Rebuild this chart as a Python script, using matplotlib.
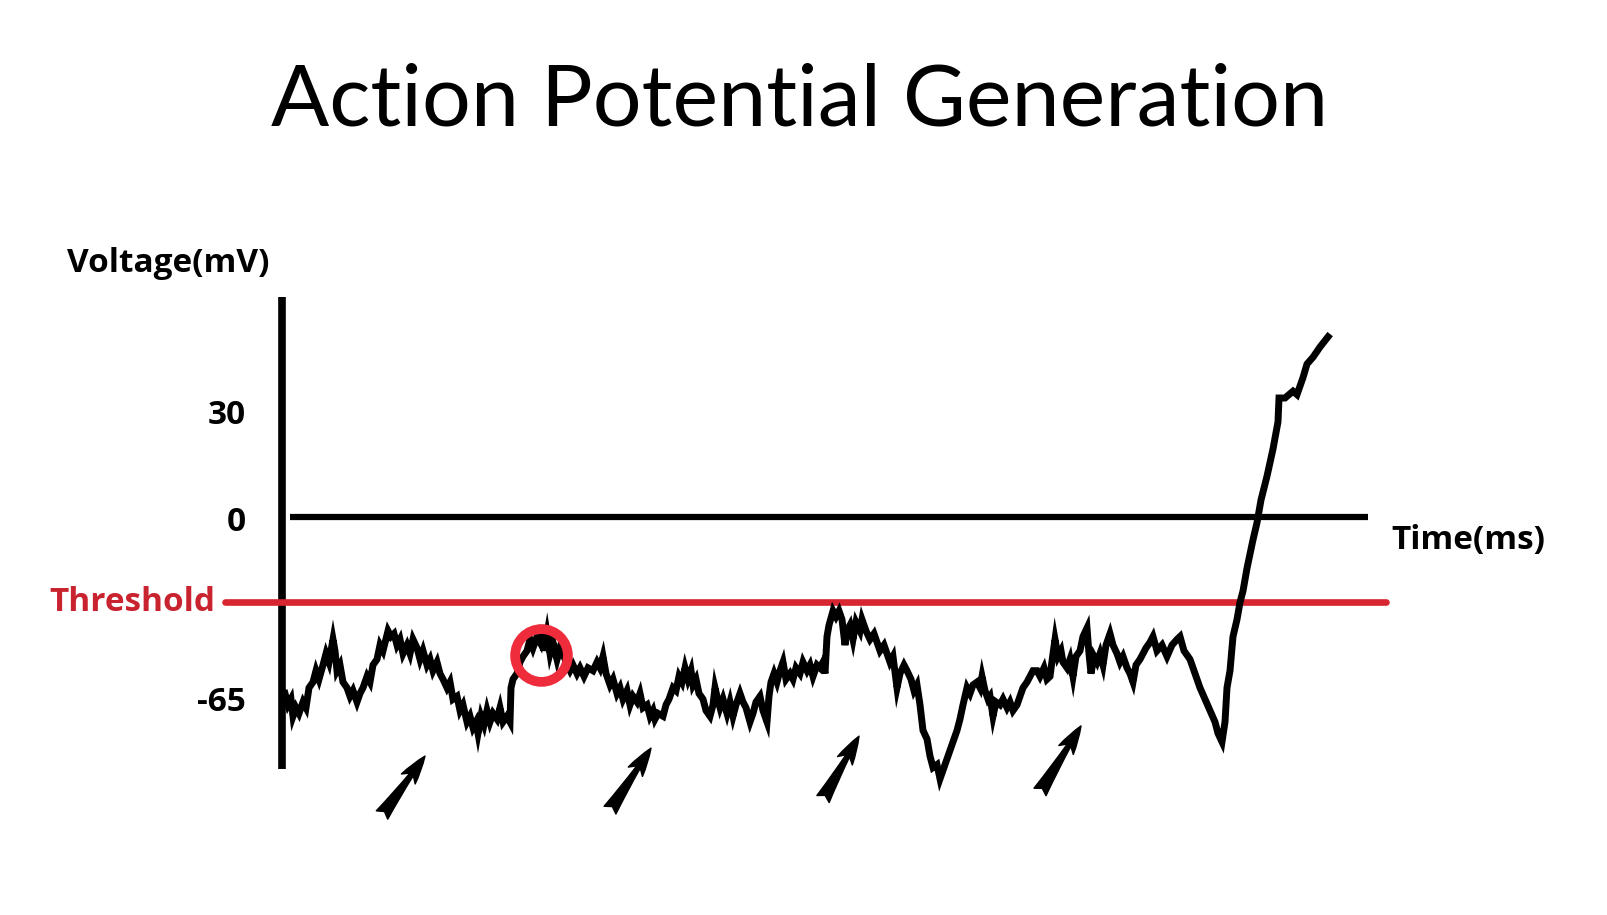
import numpy as np
import matplotlib
matplotlib.use('Agg')
import matplotlib.pyplot as plt

# membrane trace: time (ms), voltage (mV, schematic scale)
trace_t = [
    0.3, 0.6, 0.9, 1.1, 1.4, 1.7, 2.1, 2.4, 2.7, 3.1, 3.4, 3.7, 4.1, 4.4, 4.7, 5.1, 5.3, 5.5, 5.8, 6.1,
    6.5, 6.8, 7.1, 7.5, 7.8, 8.1, 8.5, 8.8, 9.1, 9.5, 9.8, 10.1, 10.6, 10.9, 11.2, 11.5, 11.8, 12.1, 12.5, 12.8,
    13.1, 13.5, 13.8, 14.1, 14.5, 14.8, 15.1, 15.5, 15.8, 16.1, 16.5, 16.8, 17.1, 17.5, 17.8, 18.1, 18.5, 18.8, 19.1, 19.4,
    19.6, 19.9, 20.2, 20.5, 20.8, 21.1, 21.5, 21.8, 22.1, 22.5, 22.8, 22.9, 23.1, 23.5, 23.8, 24.1, 24.5, 24.8, 25.1, 25.5,
    25.8, 26.0, 26.2, 26.5, 26.8, 27.1, 27.5, 27.8, 28.1, 28.5, 28.8,
    29.1, 29.5, 29.8, 30.2, 30.6, 31.1, 31.5, 31.8, 32.1, 32.4, 32.8, 33.1, 33.5, 33.8, 34.1, 34.5, 34.8, 35.1, 35.5, 35.8,
    36.1, 36.5, 36.8, 37.1, 37.3, 37.6, 38.1, 38.4, 38.7, 39.1, 39.4, 39.7, 40.0, 40.3, 40.6, 40.9, 41.1, 41.4, 41.7, 42.1,
    42.4, 42.8, 43.1, 43.3, 43.5, 43.8, 44.1, 44.5, 44.8, 45.1, 45.4, 45.8, 46.1, 46.4, 46.8, 47.1, 47.4, 47.8, 48.1, 48.5,
    48.7, 48.9, 49.2, 49.5, 49.8, 50.1, 50.4, 50.8, 51.1, 51.4, 51.8, 52.1, 52.5, 52.8, 53.1, 53.5, 53.8, 54.1, 54.3, 54.5,
    54.7, 55.1, 55.4, 55.7, 56.0, 56.3, 56.5, 56.8, 57.1, 57.4, 57.8,
    58.0, 58.4, 58.8, 59.2, 59.8, 60.2, 60.8, 61.1, 61.5, 61.8, 62.2, 62.5, 62.9, 63.2, 63.5, 63.8, 64.1, 64.5, 64.8, 65.1,
    65.5, 65.8, 66.2, 66.5, 66.8, 67.2, 67.5, 67.8, 68.1, 68.5, 68.8, 69.1, 69.5, 69.8, 70.0, 70.3, 70.6, 70.8, 71.1, 71.4,
    71.8, 72.1, 72.5, 72.8, 73.1, 73.5, 73.8, 74.1, 74.5, 74.8, 75.1, 75.5, 75.8, 76.2, 76.5, 76.8, 77.1, 77.3, 77.6, 77.9,
    78.1, 78.5, 78.8, 79.1, 79.4, 79.8, 80.1, 80.5, 80.7, 80.9, 81.2, 81.5, 81.8, 82.1, 82.4, 82.8, 83.1, 83.5, 83.8, 84.1,
    84.5, 84.8, 85.1, 85.4, 85.8, 86.1, 86.4, 86.8,
    87.1, 87.5, 88.0, 88.5, 89.0, 89.5, 89.8, 90.2, 90.8, 91.3, 91.8, 92.3, 92.8, 93.3, 93.6, 94.0, 94.3, 94.5, 94.8, 95.1,
    95.5, 95.8, 96.1, 96.5, 97.1, 97.5, 97.9, 98.5, 99.1, 99.6, 99.7, 100.3, 101.1, 101.5, 102.1, 102.5, 103.1, 103.8, 104.6,
]
trace_v = [
    -62, -66, -64, -70, -67, -69, -65, -67, -60, -58, -54, -57, -52, -48, -51, -43, -47, -54, -52, -58,
    -60, -63, -61, -65, -62, -60, -56, -58, -52, -50, -45, -47, -40, -42, -41, -45, -43, -48, -45, -48,
    -43, -46, -50, -47, -52, -50, -54, -51, -55, -57, -60, -58, -64, -63, -68, -66, -72, -70, -74, -72,
    -76, -70, -73, -68, -72, -69, -71, -67, -72, -70, -72, -60, -57, -55, -51, -49, -47, -43, -46, -42,
    -44, -38, -47, -41, -48, -44, -50, -46, -48, -52, -54,
    -52, -55, -53, -56, -53, -54, -51, -53, -49, -55, -59, -57, -62, -60, -64, -61, -66, -63, -65, -62,
    -67, -66, -70, -68, -71, -69, -70, -66, -64, -60, -61, -56, -58, -53, -57, -54, -59, -57, -62, -64,
    -68, -70, -66, -60, -63, -67, -64, -69, -65, -70, -66, -62, -65, -67, -72, -69, -65, -63, -68, -72,
    -63, -58, -55, -58, -54, -51, -57, -55, -57, -53, -55, -51, -54, -52, -56, -52, -53, -51, -55, -42,
    -38, -33, -35, -33, -36, -45, -40, -38, -43, -37, -40,
    -36, -40, -43, -41, -47, -45, -51, -49, -60, -55, -52, -54, -57, -61, -59, -66, -75, -78, -84, -88,
    -87, -92, -88, -85, -82, -78, -75, -71, -66, -60, -62, -59, -58, -60, -56, -61, -64, -63, -70, -65,
    -66, -64, -67, -65, -68, -66, -63, -60, -58, -56, -54, -54, -56, -53, -57, -56, -48, -43, -49, -47,
    -51, -53, -50, -56, -49, -47, -42, -39, -48, -55, -49, -51, -48, -52, -45, -41, -45, -48, -51, -49,
    -53, -55, -58, -52, -50, -48, -46, -44,
    -42, -47, -45, -49, -45, -43, -42, -47, -50, -55, -60, -64, -68, -72, -76, -79, -72, -60, -54, -42,
    -36, -30, -26, -18, -8, -2, 5, 12, 20, 28, 35, 35, 37, 36, 41, 45, 47, 50, 53,
]

threshold = -30
y_ticks = [30, 0, -65]
y_tick_labels = ['30', '0', '-65']
circle_t, circle_v = 25.9, -48.5
# arrows (tail -> tip)
arrow_tail_t = [10.0, 32.8, 54.1, 75.8]
arrow_tail_v = [-104.7, -103.0, -99.1, -96.6]
arrow_tip_t = [14.3, 36.9, 57.7, 79.9]
arrow_tip_v = [-84.0, -81.2, -77.0, -73.4]

RED = '#d7262f'

# schematic voltage axis is not to scale: piecewise linear
V_KNOTS = [-200, -65, 0, 30, 250]
U_KNOTS = [-384.2, 0, 185, 287, 1035]

def fwd(v):
    return np.interp(v, V_KNOTS, U_KNOTS)

def inv(u):
    return np.interp(u, U_KNOTS, V_KNOTS)

fig = plt.figure(figsize=(16.07, 9.15), dpi=100)
ax = fig.add_axes([0, 0, 1, 1])
ax.set_yscale('function', functions=(fwd, inv))
ax.set_xlim(-28.2, 132.5)
ax.set_ylim(-139.84, 152.06)
ax.axis('off')

# axes of the diagram
ax.plot([0, 0], [64.7, -88.5], color='black', lw=5.5, solid_capstyle='butt')
ax.plot([0.8, 108.6], [0, 0], color='black', lw=4.5, solid_capstyle='butt')
ax.plot([-5.7, 110.4], [threshold, threshold], color=RED, lw=4.8, solid_capstyle='round')

ax.plot(trace_t, trace_v, color='black', lw=5, solid_joinstyle='miter')

ax.plot([circle_t], [circle_v], marker='o', ms=38, mfc='none', mec='#ee2c3c', mew=7)

for t0, v0, t1, v1 in zip(arrow_tail_t, arrow_tail_v, arrow_tip_t, arrow_tip_v):
    ax.annotate('', xy=(t1, v1), xytext=(t0, v0),
                arrowprops=dict(arrowstyle='fancy,head_length=0.6,head_width=0.36,tail_width=0.3',
                                color='black', mutation_scale=34, shrinkA=0, shrinkB=0))

lab = dict(family='Open Sans', fontweight='bold', fontsize=24)
for v, s in zip(y_ticks, y_tick_labels):
    ax.text(-3.6, v - (2 if v == 0 else 0), s, ha='right', va='center', color='black', **lab)
ax.text(-6.7, threshold, 'Threshold', ha='right', va='center', color='#c9232f', **lab)
ax.text(-11.4, 74.7, 'Voltage(mV)', ha='center', va='center', color='black', **lab)
ax.text(110.9, -8.1, 'Time(ms)', ha='left', va='center', color='black', **lab)

fig.text(800 / 1607, 1 - 125 / 915, 'Action Potential Generation', ha='center', va='baseline',
         family='Lato', fontsize=62, color='black')

fig.savefig('out.png', dpi=100, facecolor='white')
